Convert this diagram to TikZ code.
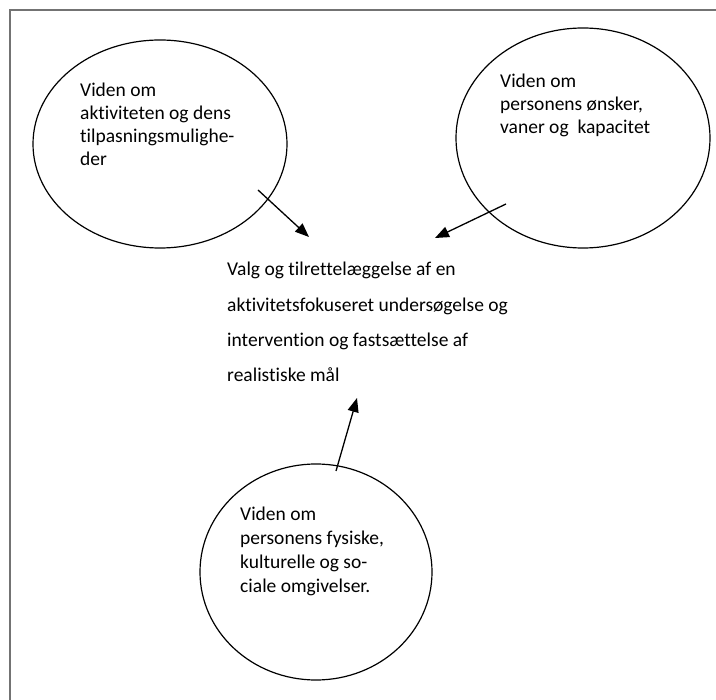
\documentclass[tikz,border=0pt]{standalone}
\usepackage{fontspec}
\setmainfont{Carlito}[Ligatures=CommonOff]
\usetikzlibrary{shapes.geometric,arrows.meta}

\tikzset{
  know/.style={ellipse,draw=black,line width=1.2pt,inner sep=0pt},
  txt/.style={anchor=north west,align=left,inner sep=0pt,font=\fontsize{19.5}{23}\selectfont},
  pil/.style={-{Triangle[length=14pt,width=11pt]},line width=1.3pt}
}

\begin{document}
\begin{tikzpicture}[x=1pt,y=-1pt]
\useasboundingbox (0,0) rectangle (716,700);
\draw[black!55,line width=2pt] (716,10) -- (10,10) -- (10,700);

% the three kinds of knowledge
\node[know,minimum width=254pt,minimum height=208pt] (aktiv) at (160,144) {};
\node[know,minimum width=254pt,minimum height=220pt] (person) at (583,138) {};
\node[know,minimum width=232pt,minimum height=216pt] (omgiv) at (316,572) {};

\node[txt] (aktivtxt) at (80,83) {Viden om\\aktiviteten og dens\\tilpasningsmulighe-\\der};
\node[txt] (persontxt) at (500,74) {Viden om\\personens ønsker,\\vaner og~ kapacitet};
\node[txt,font=\fontsize{19.5}{24}\selectfont] (omgivtxt) at (240,507) {Viden om\\personens fysiske,\\kulturelle og so-\\ciale omgivelser.};

% the choice in the middle
\node[txt,font=\fontsize{19.5}{35.3}\selectfont] (valg) at (227,262) {Valg og tilrettelæggelse af en\\aktivitetsfokuseret undersøgelse og\\intervention og fastsættelse af\\realistiske mål};

\coordinate (a1) at (258,190);
\coordinate (b1) at (309,237);
\coordinate (a2) at (506,204);
\coordinate (b2) at (435,238);
\coordinate (a3) at (336,471);
\coordinate (b3) at (357,398);

\foreach \from/\to in {a1/b1,a2/b2,a3/b3}
\draw[pil] (\from) -- (\to);
\end{tikzpicture}
\end{document}
